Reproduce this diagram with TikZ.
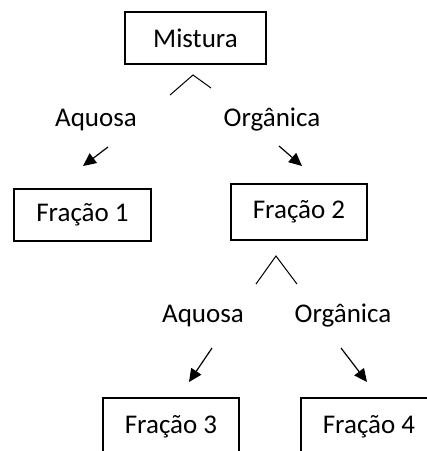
\documentclass[tikz,border=0pt]{standalone}
\usepackage{fontspec}
\setmainfont{Carlito}
\usepackage{tikz}
\usetikzlibrary{arrows.meta}

\tikzset{
  fracbox/.style={draw, line width=1.2pt, minimum width=136pt, minimum height=54pt, inner sep=0pt},
  phase/.style={inner sep=0pt},
  flow/.style={line width=1.2pt, -{Triangle[length=13pt,width=12pt]}},
}

\begin{document}
\begin{tikzpicture}[x=1pt, y=-1pt, font=\fontsize{27}{32}\selectfont]
\useasboundingbox (0,0) rectangle (427,451);
\begin{scope}
\clip (0,0) rectangle (427,451);

% boxes
\node[fracbox, minimum width=141pt, minimum height=52pt] (Mist) at (195.5,38) {Mistura};
\node[fracbox, minimum width=137pt, minimum height=52pt] (F1) at (82.5,215) {Fração 1};
\node[fracbox, minimum height=56pt] (F2) at (299,212) {Fração 2};
\node[fracbox, minimum height=58pt] (F3) at (171,427) {Fração 3};
\node[fracbox, minimum height=58pt] (F4) at (369,427) {Fração 4};

% phase labels
\node[phase] (Aq1) at (96,120) {Aquosa};
\node[phase] (Org1) at (272,120) {Orgânica};
\node[phase] (Aq2) at (203,316) {Aquosa};
\node[phase] (Org2) at (343,316) {Orgânica};

% split marks
\coordinate (s1a) at (170,95);
\coordinate (s1b) at (193,75);
\coordinate (s1c) at (211,88);
\draw[line width=1pt] (s1a) -- (s1b) -- (s1c);
\coordinate (s2a) at (256,284);
\coordinate (s2b) at (276,256);
\coordinate (s2c) at (297,284);
\draw[line width=1pt] (s2a) -- (s2b) -- (s2c);

% arrows
\coordinate (a1s) at (108,147);
\coordinate (a1e) at (83,166);
\coordinate (a2s) at (279,146);
\coordinate (a2e) at (302,166);
\coordinate (a3s) at (212,348);
\coordinate (a3e) at (189,382);
\coordinate (a4s) at (341,348);
\coordinate (a4e) at (367,382);
\draw[flow] (a1s) -- (a1e);
\draw[flow] (a2s) -- (a2e);
\draw[flow] (a3s) -- (a3e);
\draw[flow] (a4s) -- (a4e);
\end{scope}
\end{tikzpicture}
\end{document}
